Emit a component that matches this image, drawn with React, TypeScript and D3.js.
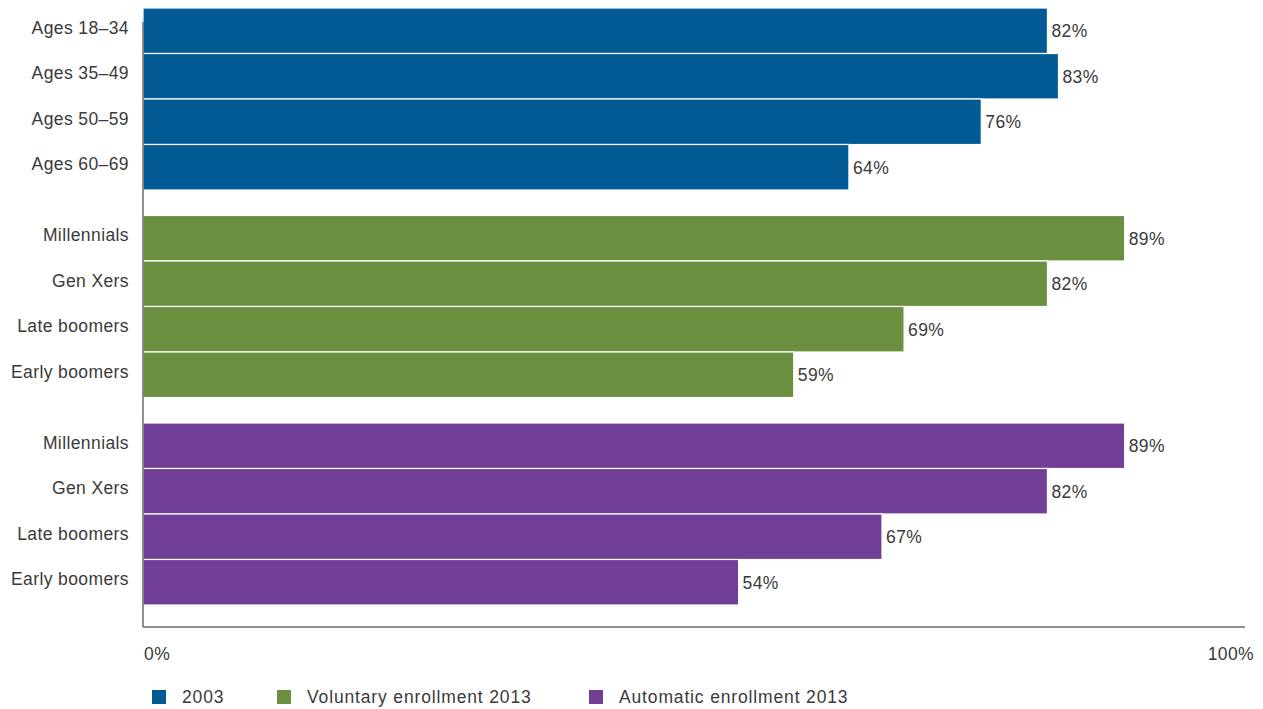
import React, { useEffect, useRef } from 'react';
import * as d3 from 'd3';

const groups = ['2003', 'Voluntary enrollment 2013', 'Automatic enrollment 2013'];
const groupColors = ['#015a94', '#6a8f3e', '#713f97'];
const labels2003 = ['Ages 18–34', 'Ages 35–49', 'Ages 50–59', 'Ages 60–69'];
const labelsGen = ['Millennials', 'Gen Xers', 'Late boomers', 'Early boomers'];
const values2003 = [82, 83, 76, 64];
const valuesVoluntary = [89, 82, 69, 59];
const valuesAutomatic = [89, 82, 67, 54];
const xTicks = [0, 100];

const App = () => {
  const svgRef = useRef<SVGSVGElement>(null);

  useEffect(() => {
    const svg = d3.select(svgRef.current);
    svg.selectAll('*').remove();

    const font = '"Liberation Sans", Arial, sans-serif';
    const fontSize = '17.5px';
    const spacing = '0.4px';
    const textColor = '#3a3a3a';
    const x0 = 143;
    const x1 = 1246;
    const top = 8;
    const barStep = 45.5;
    const groupGap = 25.5;

    const rows = [
      ...labels2003.map((l, i) => ({ label: l, value: values2003[i], g: 0, i })),
      ...labelsGen.map((l, i) => ({ label: l, value: valuesVoluntary[i], g: 1, i })),
      ...labelsGen.map((l, i) => ({ label: l, value: valuesAutomatic[i], g: 2, i })),
    ];

    const xScale = d3.scaleLinear().domain([0, 100]).range([x0, x1]);
    const yPos = (d) => top + d.g * (4 * barStep + groupGap) + d.i * barStep;

    // bars
    svg.append('g')
      .selectAll('rect')
      .data(rows)
      .join('rect')
      .attr('x', x0)
      .attr('y', d => yPos(d))
      .attr('width', d => xScale(d.value) - x0)
      .attr('height', barStep)
      .attr('fill', d => groupColors[d.g])
      .attr('stroke', '#fff')
      .attr('stroke-width', 1.2);

    // axes
    const axisBottom = 627;
    svg.append('line')
      .attr('x1', x0).attr('x2', x0)
      .attr('y1', 22).attr('y2', axisBottom)
      .attr('stroke', '#6b6b6b').attr('stroke-width', 1.5);
    svg.append('line')
      .attr('x1', x0).attr('x2', xScale(100) - 1)
      .attr('y1', axisBottom).attr('y2', axisBottom)
      .attr('stroke', '#6b6b6b').attr('stroke-width', 1.5);

    const styleText = (sel) => sel
      .attr('dominant-baseline', 'middle')
      .style('font-family', font)
      .style('font-size', fontSize)
      .style('letter-spacing', spacing)
      .attr('fill', textColor);

    // category labels
    svg.append('g')
      .selectAll('text')
      .data(rows)
      .join('text')
      .attr('x', 129)
      .attr('y', d => yPos(d) + barStep / 2 - 1.5)
      .attr('text-anchor', 'end')
      .call(styleText)
      .text(d => d.label);

    // value labels
    svg.append('g')
      .selectAll('text')
      .data(rows)
      .join('text')
      .attr('x', d => xScale(d.value) + 4)
      .attr('y', d => yPos(d) + barStep / 2 + 2)
      .call(styleText)
      .text(d => `${d.value}%`);

    // tick labels
    svg.append('g')
      .selectAll('text')
      .data(xTicks)
      .join('text')
      .attr('x', d => (d === 0 ? xScale(d) + 1 : xScale(d) + 8))
      .attr('y', 655)
      .attr('text-anchor', d => (d === 0 ? 'start' : 'end'))
      .call(styleText)
      .text(d => `${d}%`);

    // legend
    const legendX = [152, 277, 589];
    const legend = svg.append('g');
    groups.forEach((g, i) => {
      legend.append('rect')
        .attr('x', legendX[i]).attr('y', 690)
        .attr('width', 14).attr('height', 14)
        .attr('fill', groupColors[i]);
      legend.append('text')
        .attr('x', legendX[i] + 30)
        .attr('y', 698)
        .call(styleText)
        .style('letter-spacing', '0.85px')
        .text(g);
    });
  }, []);

  return (
    <svg ref={svgRef} width={1263} height={709} style={{ position: 'absolute', left: 0, top: 0 }} />
  );
};

export default App;
